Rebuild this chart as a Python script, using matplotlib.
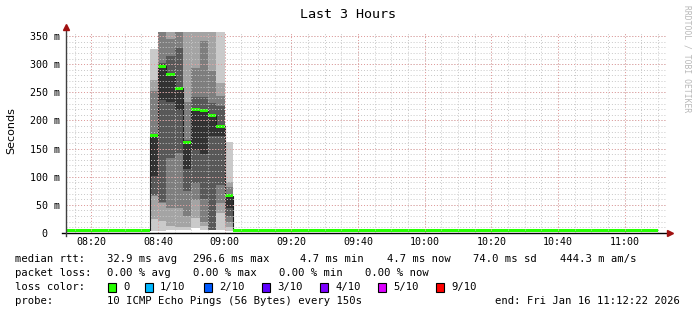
import matplotlib
matplotlib.use("Agg")
import matplotlib.pyplot as plt
from matplotlib.patches import Rectangle

# ---- data (milliseconds) ----
title = "Last 3 Hours"
window = ("08:12:22", "11:12:22")

# quiet periods: median rtt stays at the minimum
quiet_spans = [("08:12:22", "08:37:30"), ("09:02:30", "11:10:00")]
quiet_median = 4.7

# the spike, one 150 s step per column
spike_times = ["08:37:30", "08:40:00", "08:42:30", "08:45:00", "08:47:30",
               "08:50:00", "08:52:30", "08:55:00", "08:57:30", "09:00:00"]
spike_end = "09:02:30"
spike_median = [173, 296.6, 281, 257, 160, 219, 217, 209, 190, 66]
# 10 sorted ping times per column
spike_pings = [
    [4, 25, 66, 67, 101, 173, 175, 252, 272, 327],
    [4, 21, 54, 55, 236, 300, 302, 370, 400, 430],
    [5, 12, 45, 133, 233, 282, 314, 345, 380, 420],
    [5, 10, 45, 142, 219, 257, 328, 370, 390, 420],
    [5, 10, 30, 75, 114, 160, 165, 233, 365, 400],
    [9, 26, 59, 89, 148, 221, 241, 293, 370, 400],
    [6, 12, 20, 60, 140, 219, 241, 342, 370, 400],
    [4.5, 4.6, 4.7, 5, 172, 211, 231, 288, 370, 400],
    [5, 35, 53, 85, 172, 192, 226, 244, 266, 380],
    [4, 10, 20, 30, 44, 68, 70, 82, 91, 162],
]

y_ticks = [0, 50, 100, 150, 200, 250, 300, 350]
y_tick_labels = ["0  ", "50 m", "100 m", "150 m", "200 m", "250 m", "300 m", "350 m"]
x_tick_labels = ["08:20", "08:40", "09:00", "09:20", "09:40", "10:00",
                 "10:20", "10:40", "11:00"]

legend_rtt = ["32.9 ms avg", "296.6 ms max", "4.7 ms min", "4.7 ms now",
              "74.0 ms sd", "444.3 m am/s"]
legend_loss = ["0.00 % avg", "0.00 % max", "0.00 % min", "0.00 % now"]
loss_labels = ["0", "1/10", "2/10", "3/10", "4/10", "5/10", "9/10"]
loss_colors = ["#26ff00", "#00b8ff", "#0059ff", "#5e00ff", "#7e00ff", "#dd00ff", "#ff0000"]
probe_text = "10 ICMP Echo Pings (56 Bytes) every 150s"
end_text = "end: Fri Jan 16 11:12:22 2026"


def to_min(s):
    h, m, sec = (int(v) for v in s.split(":"))
    return h * 60 + m + sec / 60


W, H = 697, 315
MONO = "DejaVu Sans Mono"
shades = ["#cacaca", "#a4a4a4", "#7e7e7e", "#585858", "#323232"]
green = loss_colors[0]
bar = 2.6  # half height of the median bar, ms

fig = plt.figure(figsize=(W / 100, H / 100), dpi=100)
fig.patch.set_facecolor("white")
ax = fig.add_axes([66 / W, (H - 233) / H, 600 / W, 201.5 / H])
ax.set_xlim(to_min(window[0]), to_min(window[1]))
ax.set_ylim(0, 358)

# smoke
edges = [to_min(t) for t in spike_times] + [to_min(spike_end)]
for i, pings in enumerate(spike_pings):
    for k in range(5):
        ax.fill_between([edges[i], edges[i + 1]], pings[k], pings[9 - k],
                        color=shades[k], lw=0, zorder=1)

# thin median line with its steps
step_edges = [to_min(quiet_spans[0][0])] + edges + [to_min(quiet_spans[1][1])]
step_vals = [quiet_median] + spike_median + [quiet_median]
ax.stairs(step_vals, step_edges, baseline=None, color="#202020", lw=0.8, zorder=2)

# green median bars
for a, b in quiet_spans:
    ax.fill_between([to_min(a), to_min(b)], quiet_median - bar, quiet_median + bar,
                    color=green, lw=0, zorder=3)
for i, med in enumerate(spike_median):
    ax.fill_between([edges[i], edges[i + 1]], med - bar, med + bar,
                    color=green, lw=0, zorder=3)

# grid
t0 = to_min(window[0])
major_x = [to_min(t + ":00") for t in x_tick_labels]
minor_x = [m for m in range(int(t0) + 1, int(to_min(window[1])) + 1) if m % 5 == 0]
for m in minor_x:
    ax.axvline(m, color="#c8c8c8", lw=0.7, ls=(0, (1, 2)), zorder=4)
for v in range(10, 358, 10):
    ax.axhline(v, color="#c8c8c8", lw=0.7, ls=(0, (1, 2)), zorder=4)
for m in major_x:
    ax.axvline(m, color="#e39a9a", lw=0.7, ls=(0, (1, 2)), zorder=5)
for v in y_ticks[1:]:
    ax.axhline(v, color="#e39a9a", lw=0.7, ls=(0, (1, 2)), zorder=5)

ax.set_xticks(major_x, x_tick_labels, family=MONO, fontsize=7.2)
ax.set_yticks(y_ticks, y_tick_labels, family=MONO, fontsize=7.2)
ax.tick_params(length=0)
ax.tick_params(axis="x", pad=3.0)
ax.tick_params(axis="y", pad=4.3)
for s in ax.spines.values():
    s.set_visible(False)

# axes with arrows
ax.plot([-4 / 600, 602 / 600], [0, 0], transform=ax.transAxes, color="black",
        lw=1.0, clip_on=False, zorder=6)
ax.plot([0, 0], [-3 / 201.5, 1.01], transform=ax.transAxes, color="#404040",
        lw=1.0, clip_on=False, zorder=6)
ax.plot([604 / 600], [0], marker=">", ms=4, color="#a01010", transform=ax.transAxes,
        clip_on=False, zorder=7)
ax.plot([0], [1.02], marker="^", ms=4, color="#a01010", transform=ax.transAxes,
        clip_on=False, zorder=7)

fig.text(0.5, 1 - 14 / H, title, family=MONO, fontsize=9.6, ha="center", va="center")
fig.text(11 / W, 1 - 131 / H, "Seconds", rotation=90, fontsize=8, ha="center", va="center")
fig.text(687 / W, 1 - 59 / H, "RRDTOOL / TOBI OETIKER", rotation=270, family=MONO,
         fontsize=5.8, color="#b8b8b8", ha="center", va="center")


def ftext(x, y, s, **kw):
    fig.text(x / W, 1 - y / H, s, family=MONO, fontsize=7.6, va="center", **kw)


ftext(15, 259, "median rtt:")
for x, s in zip([107, 193, 300, 387, 473, 560], legend_rtt):
    ftext(x, 259, s)
ftext(15, 273, "packet loss:")
for x, s in zip([107, 193, 279, 365], legend_loss):
    ftext(x, 273, s)
ftext(15, 287, "loss color:")
for x, lab, c in zip([108, 145, 204, 262, 320, 378, 436], loss_labels, loss_colors):
    fig.patches.append(Rectangle((x / W, 1 - 292 / H), 8 / W, 9.5 / H,
                                 transform=fig.transFigure, facecolor=c,
                                 edgecolor="black", lw=0.8))
    ftext(x + 15, 287, lab)
ftext(15, 301, "probe:")
ftext(107, 301, probe_text)
ftext(680, 301, end_text, ha="right")

fig.savefig("out.png", dpi=100)
